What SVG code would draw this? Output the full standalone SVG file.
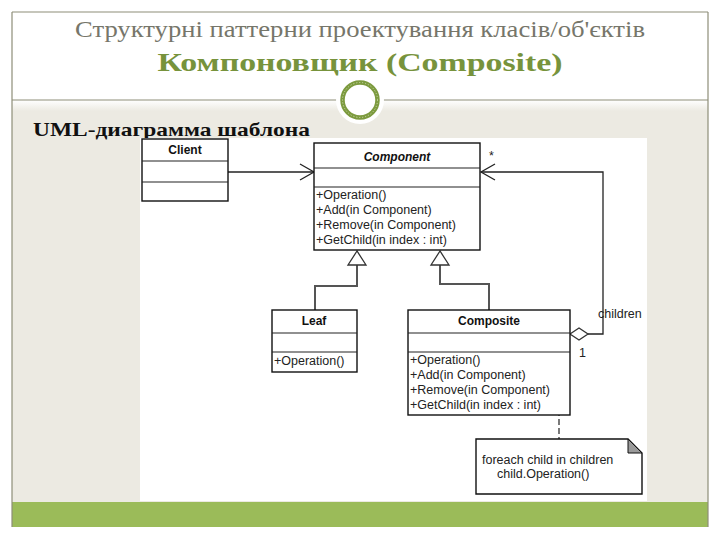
<svg xmlns="http://www.w3.org/2000/svg" width="720" height="540" viewBox="0 0 720 540">
<defs>
<linearGradient id="bg" x1="0" y1="0" x2="0" y2="1">
<stop offset="0" stop-color="#FFFFFF"/>
<stop offset="1" stop-color="#ECEAE2"/>
</linearGradient>
<style>
.frame{stroke:#8E8E78;stroke-width:1.2;fill:none}
.box{fill:#FFFFFF;stroke:#111;stroke-width:1.4}
.div{stroke:#222;stroke-width:1.2}
.t{font-family:"Liberation Sans",Arial,sans-serif;font-size:12.5px;fill:#222}
.tb{font-family:"Liberation Sans",Arial,sans-serif;font-size:12px;font-weight:bold;fill:#111;text-anchor:middle}
.line{fill:none;stroke:#222;stroke-width:1.3}
.gen{fill:none;stroke:#555;stroke-width:2}
.tri{fill:#FFFFFF;stroke:#333;stroke-width:1.3}
</style>
</defs>
<rect x="0" y="0" width="720" height="540" fill="#FFFFFF"/>
<!-- slide background -->
<rect x="12" y="100" width="696" height="11" fill="url(#bg)"/>
<rect x="12" y="111" width="696" height="391" fill="#ECEAE2"/>
<rect x="12" y="502" width="696" height="25" fill="#9BBB59"/>
<line class="frame" x1="12" y1="12" x2="708" y2="12"/>
<line class="frame" x1="12" y1="12" x2="12" y2="527"/>
<line class="frame" x1="708" y1="12" x2="708" y2="527"/>
<line class="frame" x1="12" y1="100" x2="708" y2="100"/>
<!-- ornament -->
<circle cx="360" cy="100" r="24" fill="#FFFFFF"/>
<circle cx="360" cy="100" r="17.5" fill="#FFFFFF" stroke="#7C9A3E" stroke-width="4.5"/>
<circle cx="360" cy="100" r="17.5" fill="none" stroke="#C9D8A8" stroke-width="1" stroke-dasharray="1.2 1.8"/>
<!-- titles -->
<text x="360" y="37" text-anchor="middle" font-family="'Liberation Serif','Times New Roman',serif" font-size="23" fill="#76766A" textLength="570" lengthAdjust="spacingAndGlyphs">Структурні паттерни проектування класів/об'єктів</text>
<text x="360" y="71" text-anchor="middle" font-family="'Liberation Serif','Times New Roman',serif" font-size="26" font-weight="bold" fill="#77933C" textLength="405" lengthAdjust="spacingAndGlyphs">Компоновщик (Composite)</text>
<text x="33" y="136" font-family="'Liberation Serif','Times New Roman',serif" font-size="19" font-weight="bold" fill="#111" textLength="277" lengthAdjust="spacingAndGlyphs">UML-диаграмма шаблона</text>
<!-- diagram canvas -->
<rect x="140" y="138" width="507" height="363" fill="#FFFFFF"/>
<g id="connectors">
<line class="line" x1="228" y1="172" x2="314" y2="172"/>
<polyline class="line" points="300,164 314,172 300,180"/>
<polyline class="line" points="588,334 603,334 603,172 481,172" stroke="#333"/>
<polyline class="line" points="495,164 481,172 495,180"/>
<text class="t" x="489" y="160" font-size="11">*</text>
<polyline class="gen" points="357,265 357,286 315,286 315,310"/>
<polyline class="gen" points="440,265 440,284 489,284 489,310"/>
<polygon class="tri" points="357,251 348,265 366,265"/>
<polygon class="tri" points="440,251 431,265 449,265"/>
<polygon class="tri" points="570,334 579,328 588,334 579,340"/>
<text class="t" x="598" y="318">children</text>
<text class="t" x="579" y="357">1</text>
<line x1="559" y1="365" x2="559" y2="439" stroke="#222" stroke-width="1.2" stroke-dasharray="6 3"/>
</g>
<g id="client">
<rect class="box" x="142" y="139" width="86" height="62"/>
<line class="div" x1="142" y1="161" x2="228" y2="161"/>
<line class="div" x1="142" y1="182" x2="228" y2="182"/>
<text class="tb" x="185" y="154">Client</text>
</g>
<g id="component">
<rect class="box" x="314" y="143" width="166" height="107"/>
<line class="div" x1="314" y1="168" x2="480" y2="168"/>
<line class="div" x1="314" y1="187" x2="480" y2="187"/>
<text class="tb" x="397" y="161" font-style="italic">Component</text>
<text class="t" x="316" y="199">+Operation()</text>
<text class="t" x="316" y="214">+Add(in Component)</text>
<text class="t" x="316" y="229">+Remove(in Component)</text>
<text class="t" x="316" y="244">+GetChild(in index : int)</text>
</g>
<g id="leaf">
<rect class="box" x="272" y="310" width="85" height="62"/>
<line class="div" x1="272" y1="333" x2="357" y2="333"/>
<line class="div" x1="272" y1="352" x2="357" y2="352"/>
<text class="tb" x="314" y="325">Leaf</text>
<text class="t" x="274" y="365">+Operation()</text>
</g>
<g id="composite">
<rect class="box" x="408" y="310" width="162" height="105"/>
<line class="div" x1="408" y1="333" x2="570" y2="333"/>
<line class="div" x1="408" y1="352" x2="570" y2="352"/>
<text class="tb" x="489" y="325">Composite</text>
<text class="t" x="410" y="364">+Operation()</text>
<text class="t" x="410" y="379">+Add(in Component)</text>
<text class="t" x="410" y="394">+Remove(in Component)</text>
<text class="t" x="410" y="409">+GetChild(in index : int)</text>
</g>
<g id="note">
<path d="M476,439 L628,439 L642,453 L642,494 L476,494 Z" fill="#FFFFFF" stroke="#111" stroke-width="1.4"/>
<path d="M628,439 L628,453 L642,453 Z" fill="#9A9A9A" stroke="#111" stroke-width="1"/>
<text class="t" x="482" y="464">foreach child in children</text>
<text class="t" x="497" y="478">child.Operation()</text>
</g>
</svg>
